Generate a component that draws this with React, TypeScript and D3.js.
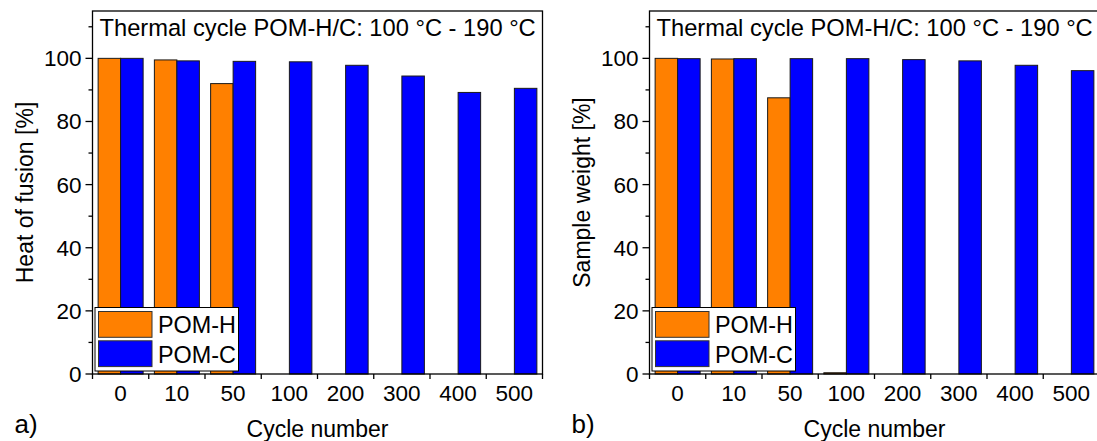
import React from "react";
import * as d3 from "d3";

// Cycle numbers on the category axis
const cycles = ["0", "10", "50", "100", "200", "300", "400", "500"];

// Panel a: heat of fusion relative to the first cycle [%]
const fusionPOMH = [100, 99.5, 92.0, 0, 0, 0, 0, 0];
const fusionPOMC = [100, 99.2, 99.05, 98.9, 97.8, 94.4, 89.2, 90.5];

// Panel b: sample weight relative to the first cycle [%]
const weightPOMH = [100, 99.8, 87.5, 0.4, 0, 0, 0, 0];
const weightPOMC = [99.9, 99.9, 99.9, 99.9, 99.6, 99.2, 97.8, 96.1];

const yMajorTicks = [0, 20, 40, 60, 80, 100];
const yMinorTicks = [10, 30, 50, 70, 90, 110];

const seriesNames = ["POM-H", "POM-C"];
const seriesColors = ["#FF8000", "#0000FF"];

const W = 1097;
const H = 441;
const TOP = 11;
const BOTTOM = 374;
const PANEL_W = 450;
const FONT = "Liberation Sans, Arial, sans-serif";

type PanelProps = {
  left: number;
  label: string;
  yTitle: string;
  h: number[];
  c: number[];
};

function Panel({ left, label, yTitle, h, c }: PanelProps) {
  const x = d3.scaleBand<string>().domain(cycles).range([left, left + PANEL_W]).paddingInner(0).paddingOuter(0);
  const inner = d3.scaleBand<string>().domain(seriesNames).range([0, x.bandwidth()]).paddingOuter(0.25).paddingInner(0);
  const y = d3.scaleLinear().domain([0, 115]).range([BOTTOM, TOP]);
  const bw = inner.bandwidth();
  const series = [h, c];
  const boundaries = d3.range(cycles.length + 1).map((i) => left + i * x.step());

  return (
    <g fontFamily={FONT} fill="#000">
      {/* bars */}
      {series.map((vals, si) =>
        vals.map((v, i) =>
          v > 0 ? (
            <rect
              key={`${si}-${i}`}
              x={(x(cycles[i]) as number) + (inner(seriesNames[si]) as number)}
              y={y(v)}
              width={bw}
              height={y(0) - y(v)}
              fill={seriesColors[si]}
              stroke="#1a1a1a"
              strokeWidth={1}
            />
          ) : null
        )
      )}

      {/* frame */}
      <rect x={left} y={TOP} width={PANEL_W} height={BOTTOM - TOP} fill="none" stroke="#000" strokeWidth={1.3} />

      {/* y ticks */}
      {yMajorTicks.map((t) => (
        <g key={`ym${t}`}>
          <line x1={left - 7} x2={left} y1={y(t)} y2={y(t)} stroke="#000" strokeWidth={1.3} />
          <text x={left - 11} y={y(t) + 8} textAnchor="end" fontSize={22.5}>
            {t}
          </text>
        </g>
      ))}
      {yMinorTicks.map((t) => (
        <line key={`yn${t}`} x1={left - 4} x2={left} y1={y(t)} y2={y(t)} stroke="#000" strokeWidth={1.3} />
      ))}

      {/* x ticks at category boundaries */}
      {boundaries.map((bx, i) => (
        <line key={`xb${i}`} x1={bx} x2={bx} y1={BOTTOM} y2={BOTTOM + 5} stroke="#000" strokeWidth={1.3} />
      ))}
      {cycles.map((cy) => (
        <text key={`xl${cy}`} x={(x(cy) as number) + x.bandwidth() / 2} y={400.5} textAnchor="middle" fontSize={22.5}>
          {cy}
        </text>
      ))}

      {/* titles */}
      <text x={left + 7} y={36} fontSize={23.7}>
        Thermal cycle POM-H/C: 100 °C - 190 °C
      </text>
      <text x={left + PANEL_W / 2} y={437} textAnchor="middle" fontSize={23}>
        Cycle number
      </text>
      <text
        transform={`translate(${left - 59.5},${(TOP + BOTTOM) / 2}) rotate(-90)`}
        textAnchor="middle"
        fontSize={23}
      >
        {yTitle}
      </text>
      <text x={left - 78} y={432.5} fontSize={26}>
        {label}
      </text>

      {/* legend */}
      <rect x={left + 2.5} y={307.5} width={143.5} height={63.5} fill="#fff" stroke="#000" strokeWidth={1} />
      {seriesNames.map((n, i) => (
        <g key={n}>
          <rect
            x={left + 6}
            y={311.5 + i * 29.3}
            width={53.5}
            height={25.8}
            fill={seriesColors[i]}
            stroke="#333"
            strokeWidth={1}
          />
          <text x={left + 65.5} y={332.8 + i * 30.5} fontSize={23.4}>
            {n}
          </text>
        </g>
      ))}
    </g>
  );
}

export default function App() {
  return (
    <svg
      width={W}
      height={H}
      viewBox={`0 0 ${W} ${H}`}
      style={{ position: "absolute", left: 0, top: 0, background: "#fff" }}
    >
      <rect x={0} y={0} width={W} height={H} fill="#fff" />
      <Panel left={92.5} label="a)" yTitle="Heat of fusion [%]" h={fusionPOMH} c={fusionPOMC} />
      <Panel left={649.5} label="b)" yTitle="Sample weight [%]" h={weightPOMH} c={weightPOMC} />
    </svg>
  );
}
